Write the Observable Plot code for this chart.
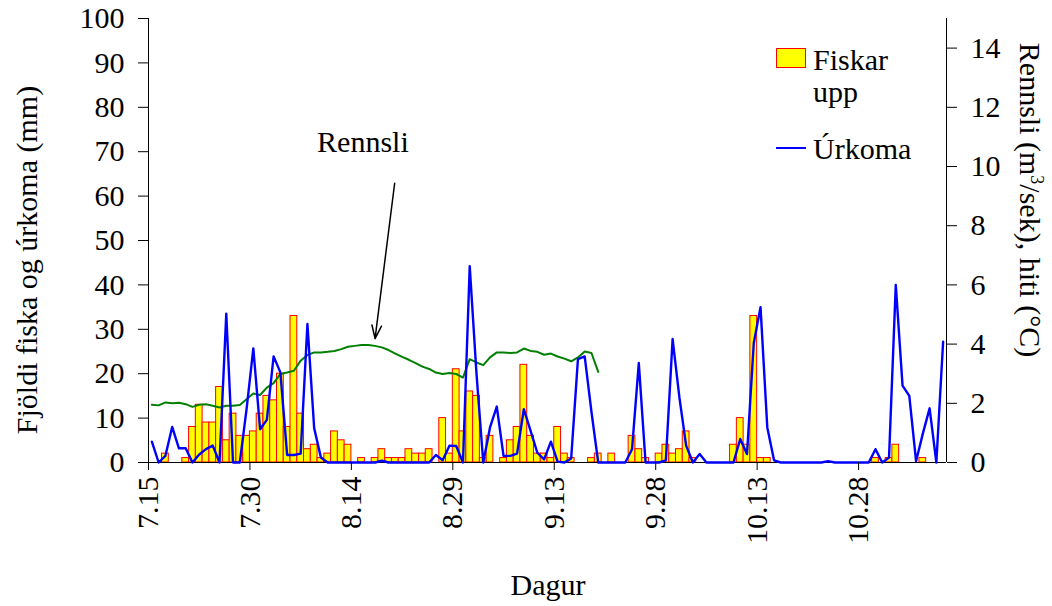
<!DOCTYPE html>
<html>
<head>
<meta charset="utf-8">
<script src="https://cdn.jsdelivr.net/npm/d3@7"></script>
<script src="https://cdn.jsdelivr.net/npm/@observablehq/plot@0.6"></script>
<style>
  html, body { margin: 0; padding: 0; background: #fff; }
  #wrap { position: relative; width: 1052px; height: 606px; font-family: "Liberation Serif", "Times New Roman", serif; color: #000; }
  .t { position: absolute; font-size: 30px; white-space: nowrap; line-height: 30px; }
  .rot { transform: translate(-50%, -50%) rotate(-90deg); }
  .rotr { transform: translate(-50%, -50%) rotate(90deg); }
  sup { font-size: 18px; line-height: 0; vertical-align: 11px; }
</style>
</head>
<body>
<div id="wrap"></div>
<script>
// ---------- data ----------
const year = 2003;
const startLabel = "7.15";      // first day of the series / axis start
const endLabel = "11.10";       // axis end
const xTickLabels = ["7.15", "7.30", "8.14", "8.29", "9.13", "9.28", "10.13", "10.28"];
const leftTicks = [0, 10, 20, 30, 40, 50, 60, 70, 80, 90, 100];
const rightTicks = [0, 2, 4, 6, 8, 10, 12, 14];
const leftMax = 100;
const rightMax = 15;

// Fiskar upp (fish counted up), one value per day from 7.15
const fishUp = [
  0, 0, 2, 0, 0, 1, 8, 13, 9, 9,
  17, 5, 11, 6, 6, 7, 11, 15, 14, 20,
  8, 33, 11, 3, 4, 1, 2, 7, 5, 4,
  0, 1, 0, 1, 3, 1, 1, 1, 3, 2,
  2, 3, 0, 10, 2, 21, 7, 16, 15, 1,
  6, 0, 1, 5, 8, 22, 6, 2, 2, 1,
  8, 2, 1, 0, 0, 1, 2, 0, 2, 0,
  0, 6, 3, 1, 0, 2, 4, 2, 3, 7,
  1, 0, 0, 0, 0, 0, 4, 10, 4, 33,
  1, 1, 0, 0, 0, 0, 0, 0, 0, 0,
  0, 0, 0, 0, 0, 0, 0, 1, 0, 1,
  4, 0, 0, 0, 1, 0, 0, 0
];

// Úrkoma (rainfall, mm), one value per day from 7.15
const rainfall = [
  4.7, 0, 1.5, 8, 3.2, 3.2, 0, 1.8, 3, 3.8,
  0, 33.5, 0, 0, 12, 25.7, 7.5, 9.6, 23.9, 20.3,
  1.7, 1.7, 2, 31.2, 7.7, 1.1, 0, 0, 0, 0,
  0, 0, 0, 0, 0.4, 0, 0, 0, 0, 0,
  0, 0, 1.7, 0.5, 3.8, 3.7, 0, 44.2, 20, 0,
  7.9, 12.6, 1.5, 1.5, 2, 12, 7.1, 2.2, 0.7, 4.7,
  0.2, 0, 0.9, 23.3, 23.9, 11.4, 0, 0, 0, 0,
  0, 3, 22.4, 0, 0, 0, 0.5, 27.8, 14.7, 3.8,
  0, 1.9, 0, 0, 0, 0, 0, 5.3, 1.9, 26.9,
  35, 7.9, 0.5, 0, 0, 0, 0, 0, 0, 0,
  0.3, 0, 0, 0, 0, 0, 0, 3, 0, 1.1,
  40, 17.3, 15, 0.3, 6.5, 12.2, 0, 27.2
];

// Rennsli (discharge, m3/sek), right axis, one value per day from 7.15
const discharge = [
  1.95, 1.93, 2.03, 2.0, 2.02, 1.97, 1.88, 1.95, 1.97, 1.92,
  1.86, 1.92, 1.92, 1.94, 2.14, 2.33, 2.28, 2.53, 2.68, 2.99,
  3.04, 3.1, 3.44, 3.63, 3.72, 3.72, 3.74, 3.77, 3.83, 3.91,
  3.94, 3.97, 3.97, 3.94, 3.89, 3.8, 3.68, 3.57, 3.47, 3.36,
  3.24, 3.16, 3.04, 2.99, 3.02, 2.99, 2.87, 3.49, 3.38, 3.29,
  3.55, 3.72, 3.72, 3.7, 3.72, 3.85, 3.77, 3.74, 3.64, 3.68,
  3.58, 3.51, 3.42, 3.55, 3.75, 3.7, 3.06
];

// annotation "Rennsli" with arrow (day offsets from 7.15, left-axis units)
const annotLabel = "Rennsli";
const annotText = {day: 31.7, v: 72.1};
const annotArrow = {day1: 36.4, v1: 62.9, day2: 33.5, v2: 27.9};

const legendFish = ["Fiskar", "upp"];
const legendRain = "Úrkoma";
const xTitle = "Dagur";
const yTitle = "Fjöldi fiska og úrkoma (mm)";

// ---------- build ----------
const parseLabel = s => { const [m, d] = s.split(".").map(Number); return new Date(Date.UTC(year, m - 1, d)); };
const start = parseLabel(startLabel);
const end = parseLabel(endLabel);
const dayAt = k => new Date(start.getTime() + k * 864e5);
const toLeft = v => v * leftMax / rightMax;

const days = fishUp.map((f, i) => ({date: dayAt(i), mid: dayAt(i + 0.5), fish: f, rain: rainfall[i]}));
const flowRows = discharge.map((q, i) => ({mid: dayAt(i + 0.5), q}));
const tickDates = xTickLabels.map(parseLabel);
const fmt = d => `${d.getUTCMonth() + 1}.${String(d.getUTCDate()).padStart(2, "0")}`;

const chart = Plot.plot({
  width: 1052, height: 606,
  marginLeft: 148, marginRight: 106, marginTop: 18, marginBottom: 144,
  style: {fontFamily: "'Liberation Serif', 'Times New Roman', serif", fontSize: "30px", color: "#000", background: "#fff", overflow: "visible"},
  x: {type: "utc", domain: [start, end]},
  y: {domain: [0, leftMax]},
  marks: [
    Plot.rectY(days.filter(d => d.fish > 0), {
      x1: "date", x2: d => dayAt((d.date - start) / 864e5 + 1), y: "fish",
      fill: "#ffff00", stroke: "#ff0000", strokeWidth: 1
    }),
    Plot.ruleY([0], {stroke: "#000", strokeWidth: 1}),
    Plot.ruleX([start, end], {stroke: "#000", strokeWidth: 1}),
    Plot.line(flowRows, {x: "mid", y: d => toLeft(d.q), stroke: "#008000", strokeWidth: 2}),
    Plot.line(days, {x: "mid", y: "rain", stroke: "#0000ff", strokeWidth: 2.4}),
    Plot.axisX(tickDates, {tickFormat: fmt, tickRotate: -90, tickSize: 8, tickPadding: 6, label: null, fontSize: 30}),
    Plot.axisY(leftTicks, {anchor: "left", tickSize: 10, tickPadding: 14, label: null, fontSize: 30}),
    Plot.axisY(rightTicks.map(toLeft), {anchor: "right", tickFormat: d => String(Math.round(d * rightMax / leftMax)), tickSize: 10, tickPadding: 14, label: null, fontSize: 30}),
    Plot.arrow([annotArrow], {
      x1: d => dayAt(d.day1), y1: "v1", x2: d => dayAt(d.day2), y2: "v2",
      stroke: "#000", strokeWidth: 1.5, headLength: 14, headAngle: 40
    }),
    Plot.text([annotText], {x: d => dayAt(d.day), y: "v", text: () => annotLabel, fontSize: 30, fill: "#000"})
  ]
});

const wrap = document.getElementById("wrap");
wrap.appendChild(chart);

function addText(html, css, cls) {
  const el = document.createElement("div");
  el.className = "t " + (cls || "");
  el.innerHTML = html;
  Object.assign(el.style, css);
  wrap.appendChild(el);
  return el;
}
// axis titles
addText(xTitle, {left: "548px", top: "585px", transform: "translate(-50%, -50%)"});
addText(yTitle, {left: "27px", top: "260px"}, "rot");
addText("Rennsli (m<sup>3</sup>/sek), hiti (°C)", {left: "1030px", top: "200px"}, "rotr");

// legend
const box = document.createElement("div");
Object.assign(box.style, {position: "absolute", left: "776px", top: "48px", width: "28px", height: "18px", background: "#ffff00", border: "1px solid #ff0000"});
wrap.appendChild(box);
addText(legendFish.join("<br>"), {left: "813px", top: "44px", lineHeight: "32px"});
const ln = document.createElement("div");
Object.assign(ln.style, {position: "absolute", left: "776px", top: "147px", width: "30px", height: "2px", background: "#0000ff"});
wrap.appendChild(ln);
addText(legendRain, {left: "813px", top: "134px"});
</script>
</body>
</html>
